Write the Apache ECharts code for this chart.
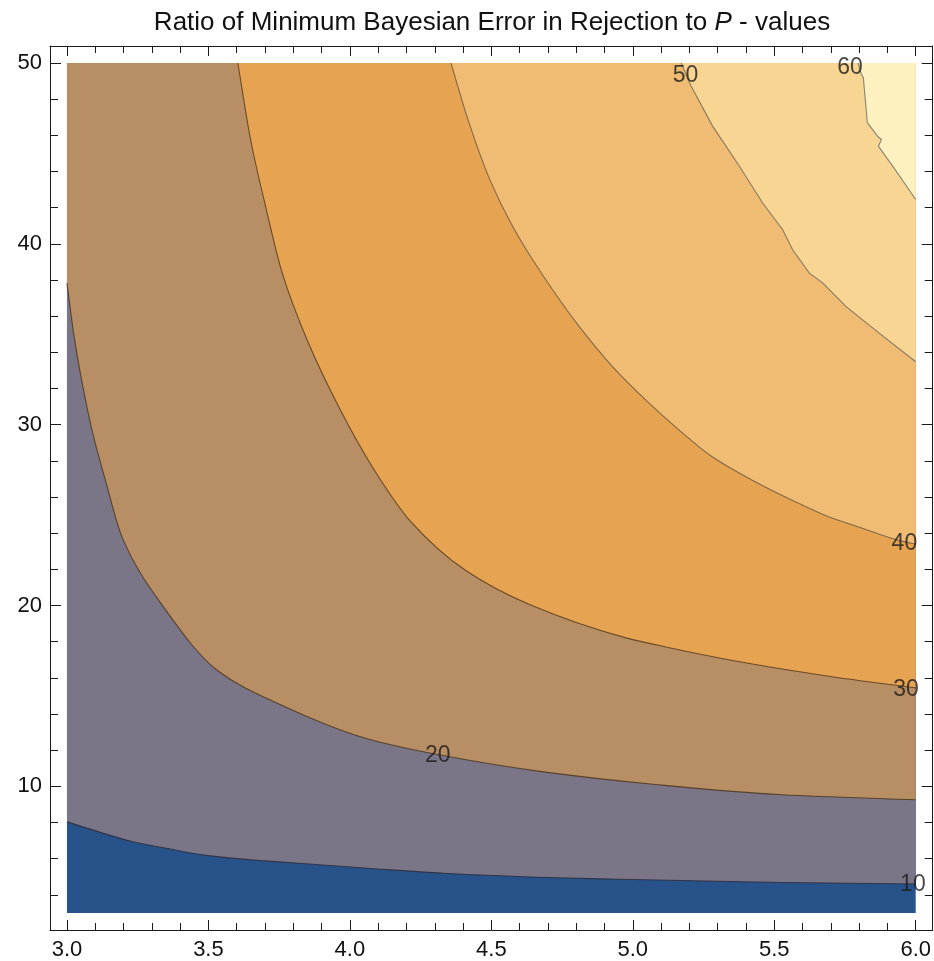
<!DOCTYPE html>
<html>
<head>
<meta charset="utf-8">
<script src="https://cdn.jsdelivr.net/npm/echarts@6/dist/echarts.min.js"></script>
<style>html,body{margin:0;padding:0;background:#fff}#c{width:934px;height:961px}</style>
</head>
<body>
<div id="c"></div>
<script>
// ---- data ----
const titleText = 'Ratio of Minimum Bayesian Error in Rejection to ';
const titleItalic = 'P';
const titleTail = ' - values';

const contourLevels = [10, 20, 30, 40, 50, 60];
const bandColors = ['#27538a', '#7a7688', '#b88e64', '#e6a452', '#f0bb72', '#f8d592', '#fdf1c0'];

const xDataRange = [3.0, 6.0];
const yDataRange = [3.0, 50.0];

const xMajorTicks = [3.0, 3.5, 4.0, 4.5, 5.0, 5.5, 6.0];
const xMinorTicks = [3.1, 3.2, 3.3, 3.4, 3.6, 3.7, 3.8, 3.9, 4.1, 4.2, 4.3, 4.4, 4.6, 4.7, 4.8, 4.9, 5.1, 5.2, 5.3, 5.4, 5.6, 5.7, 5.8, 5.9];
const yMajorTicks = [10, 20, 30, 40, 50];
const yMinorTicks = [4, 6, 8, 12, 14, 16, 18, 22, 24, 26, 28, 32, 34, 36, 38, 42, 44, 46, 48];

// contour lines as [x, y] pairs
const contour10 = [[3.0, 8.04], [3.11, 7.50], [3.23, 6.95], [3.35, 6.58], [3.50, 6.17], [3.70, 5.88], [3.82, 5.75], [4.10, 5.43], [4.33, 5.20], [4.73, 4.95], [4.95, 4.87], [5.13, 4.81], [5.53, 4.69], [6.0, 4.60]];
const contour20 = [[3.0, 37.83], [3.025, 34.9], [3.055, 32.2], [3.09, 29.6], [3.136, 26.92], [3.195, 23.77], [3.334, 20.08], [3.534, 16.38], [3.753, 14.53], [4.052, 12.68], [4.311, 11.76], [4.671, 10.83], [5.09, 10.09], [5.528, 9.54], [6.0, 9.26]];
const contour30 = [[3.604, 50.0], [3.649, 45.77], [3.702, 42.07], [3.761, 38.38], [3.849, 34.68], [3.961, 30.98], [4.09, 27.4], [4.212, 24.70], [4.411, 21.92], [4.631, 20.08], [4.97, 18.24], [5.129, 17.67], [5.428, 16.75], [5.728, 16.01], [6.0, 15.45]];
const contour40 = [[4.357, 50.0], [4.421, 46.70], [4.492, 43.65], [4.575, 40.97], [4.693, 38.0], [4.811, 35.42], [4.929, 33.20], [5.047, 31.35], [5.165, 29.69], [5.282, 28.21], [5.424, 26.92], [5.565, 25.81], [5.683, 24.97], [5.801, 24.33], [5.943, 23.59], [6.0, 23.40]];
const contour50 = [[5.171, 50.0], [5.206, 48.73], [5.282, 46.51], [5.377, 44.29], [5.459, 42.26], [5.530, 40.78], [5.565, 39.67], [5.624, 38.38], [5.672, 37.83], [5.754, 36.53], [5.872, 35.05], [6.0, 33.48]];
const contour60 = [[5.796, 50.0], [5.808, 49.38], [5.815, 49.19], [5.829, 46.70], [5.865, 45.96], [5.879, 45.77], [5.868, 45.40], [5.923, 44.20], [6.0, 42.45]];

// contour label anchors [x, y, level]
const contourLabels = [[5.99, 4.58, 10], [4.311, 11.72, 20], [5.966, 15.36, 30], [5.96, 23.4, 40], [5.186, 49.3, 50], [5.768, 49.76, 60]];

// ---- build ----
const contours = [contour10, contour20, contour30, contour40, contour50, contour60];
const contourSmooth = [true, true, true, true, false, false];
const xPad = (xDataRange[1] - xDataRange[0]) * 0.02;
const yPad = (yDataRange[1] - yDataRange[0]) * 0.02;
const xMin = xDataRange[0] - xPad, xMax = xDataRange[1] + xPad;
const yMin = yDataRange[0] - yPad, yMax = yDataRange[1] + yPad;

// monotone-cubic path through pixel points (x increasing)
function curvePath(pts, smooth) {
  let d = 'M' + pts[0][0] + ' ' + pts[0][1];
  const n = pts.length;
  if (!smooth || n < 3) {
    for (let i = 1; i < n; i++) d += ' L' + pts[i][0] + ' ' + pts[i][1];
    return d;
  }
  const h = [], s = [];
  for (let i = 0; i < n - 1; i++) {
    h.push(pts[i + 1][0] - pts[i][0]);
    s.push((pts[i + 1][1] - pts[i][1]) / h[i]);
  }
  const m = new Array(n);
  m[0] = s[0]; m[n - 1] = s[n - 2];
  for (let i = 1; i < n - 1; i++) {
    if (s[i - 1] * s[i] <= 0) m[i] = 0;
    else m[i] = 3 * (h[i - 1] + h[i]) / ((2 * h[i] + h[i - 1]) / s[i - 1] + (h[i] + 2 * h[i - 1]) / s[i]);
  }
  for (let i = 0; i < n - 1; i++) {
    const c1x = pts[i][0] + h[i] / 3, c1y = pts[i][1] + m[i] * h[i] / 3;
    const c2x = pts[i + 1][0] - h[i] / 3, c2y = pts[i + 1][1] - m[i + 1] * h[i] / 3;
    d += ' C' + c1x + ' ' + c1y + ' ' + c2x + ' ' + c2y + ' ' + pts[i + 1][0] + ' ' + pts[i + 1][1];
  }
  return d;
}

const FONT = '"Liberation Sans", Arial, Helvetica, sans-serif';
const frameColor = '#1a1a1a';

function xAxisDef(pos, ticks, len, showLine, showLabel) {
  return {
    type: 'value', position: pos, min: xMin, max: xMax, gridIndex: 0,
    axisLine: { show: showLine, onZero: false, lineStyle: { color: frameColor, width: 1 } },
    axisTick: { show: true, inside: true, length: len, customValues: ticks, lineStyle: { color: frameColor, width: 1 } },
    axisLabel: { show: showLabel, customValues: ticks, margin: 9, fontSize: 22, color: '#111', fontFamily: FONT, formatter: v => Number(v).toFixed(1) },
    splitLine: { show: false }, minorTick: { show: false }
  };
}
function yAxisDef(pos, ticks, len, showLine, showLabel) {
  return {
    type: 'value', position: pos, min: yMin, max: yMax, gridIndex: 0,
    axisLine: { show: showLine, onZero: false, lineStyle: { color: frameColor, width: 1 } },
    axisTick: { show: true, inside: true, length: len, customValues: ticks, lineStyle: { color: frameColor, width: 1 } },
    axisLabel: { show: showLabel, customValues: ticks, margin: 8, fontSize: 22, color: '#111', fontFamily: FONT, formatter: v => String(Math.round(v)) },
    splitLine: { show: false }, minorTick: { show: false }
  };
}

const lineColors = ['rgba(45,45,60,0.85)', 'rgba(70,50,25,0.8)', 'rgba(80,55,25,0.8)', 'rgba(95,80,60,0.75)', 'rgba(100,95,85,0.75)', 'rgba(100,100,95,0.75)'];

const series = [];
// filled bands
series.push({
  type: 'custom', xAxisIndex: 0, yAxisIndex: 0, silent: true, z: 1,
  data: bandColors.map((c, i) => i === 0 ? [xDataRange[0], yDataRange[0]] : contours[i - 1][0]),
  renderItem: function (params, api) {
    const i = params.dataIndex;
    const color = bandColors[i];
    if (i === 0) {
      const corners = [[xDataRange[0], yDataRange[0]], [xDataRange[1], yDataRange[0]], [xDataRange[1], yDataRange[1]], [xDataRange[0], yDataRange[1]]].map(p => api.coord(p));
      return { type: 'polygon', shape: { points: corners }, style: { fill: color } };
    }
    const c = contours[i - 1];
    const px = c.map(p => api.coord(p));
    let d = curvePath(px, contourSmooth[i - 1]);
    const tr = api.coord([xDataRange[1], yDataRange[1]]);
    d += ' L' + tr[0] + ' ' + tr[1];
    if (c[0][0] <= xDataRange[0] + 1e-9) {
      const tl = api.coord([xDataRange[0], yDataRange[1]]);
      d += ' L' + tl[0] + ' ' + tl[1];
    }
    d += ' Z';
    return { type: 'path', shape: { pathData: d }, style: { fill: color, stroke: null } };
  }
});
// contour lines
series.push({
  type: 'custom', xAxisIndex: 0, yAxisIndex: 0, silent: true, z: 2,
  data: contours.map(c => c[0]),
  renderItem: function (params, api) {
    const i = params.dataIndex;
    const px = contours[i].map(p => api.coord(p));
    return { type: 'path', shape: { pathData: curvePath(px, contourSmooth[i]) }, style: { fill: null, stroke: lineColors[i], lineWidth: 1.1 } };
  }
});
// contour labels
series.push({
  type: 'scatter', xAxisIndex: 0, yAxisIndex: 0, symbolSize: 0, silent: true, z: 3,
  data: contourLabels.map(d => ({ value: [d[0], d[1]], name: String(d[2]) })),
  label: { show: true, position: 'inside', formatter: p => p.name, fontSize: 23, color: '#1a1a1a', fontFamily: FONT }
});

const option = {
  animation: false,
  backgroundColor: '#fff',
  grid: { left: 50, right: 0, top: 46, bottom: 31, containLabel: false },
  xAxis: [
    xAxisDef('bottom', xMajorTicks, 10, true, true),
    xAxisDef('bottom', xMinorTicks, 7, false, false),
    xAxisDef('top', xMajorTicks, 10, true, false),
    xAxisDef('top', xMinorTicks, 7, false, false)
  ],
  yAxis: [
    yAxisDef('left', yMajorTicks, 11, true, true),
    yAxisDef('left', yMinorTicks, 8, false, false),
    yAxisDef('right', yMajorTicks, 11, true, false),
    yAxisDef('right', yMinorTicks, 8, false, false)
  ],
  graphic: [{
    type: 'text', x: 492, y: 23, z: 10,
    style: {
      text: '{a|' + titleText + '}{b|' + titleItalic + '}{a|' + titleTail + '}',
      align: 'center', verticalAlign: 'middle',
      rich: {
        a: { fontSize: 26, fontFamily: FONT, fill: '#111' },
        b: { fontSize: 26, fontFamily: FONT, fontStyle: 'italic', fill: '#111' }
      }
    }
  }],
  series: series
};

const chart = echarts.init(document.getElementById('c'), null, { renderer: 'canvas' });
chart.setOption(option);
</script>
</body>
</html>
